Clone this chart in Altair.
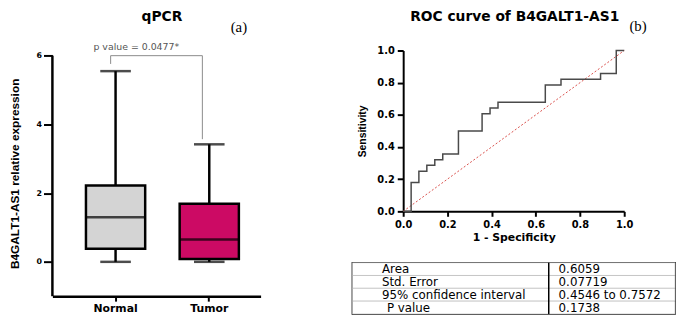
import altair as alt
import pandas as pd

# ---------------- data ----------------
categories = ["Normal", "Tumor"]
whisker_low = [0.0, 0.0]
quartile1 = [0.38, 0.08]
medians = [1.30, 0.65]
quartile3 = [2.22, 1.69]
whisker_high = [5.55, 3.42]
box_colors = ["#d4d4d4", "#cc0a64"]
qpcr_ticks = [0, 2, 4, 6]

p_label = "p value = 0.0477*"
bracket_top = 6.0
bracket_left_end = 5.76
bracket_right_end = 3.57

roc_fpr = [0.0, 0.036, 0.071, 0.107, 0.143, 0.179, 0.250, 0.357, 0.393, 0.429,
           0.643, 0.714, 0.893, 0.964, 1.0]
roc_tpr = [0.0, 0.179, 0.250, 0.286, 0.321, 0.357, 0.500, 0.607, 0.643, 0.679,
           0.786, 0.821, 0.857, 1.0, 1.0]
diag_x = [0.0, 1.0]
diag_y = [0.0, 1.0]
roc_ticks = [0.0, 0.2, 0.4, 0.6, 0.8, 1.0]

table_labels = ["Area", "Std. Error", "95% confidence interval", "P value"]
table_values = ["0.6059", "0.07719", "0.4546 to 0.7572", "0.1738"]
table_indent = [0, 0, 0, 5]

titles = ["qPCR", "ROC curve of B4GALT1-AS1"]
panel_tags = ["(a)", "(b)"]

BOLD = "DejaVu Sans"
ARIAL = "Liberation Sans"


def text_chart(t, **mark):
    return alt.Chart(pd.DataFrame({"t": [t]})).mark_text(**mark)


# ---------------- left panel: qPCR box plot ----------------
box_df = pd.DataFrame({
    "cat": categories, "lo": whisker_low, "q1": quartile1, "med": medians,
    "q3": quartile3, "hi": whisker_high, "color": box_colors,
})

xs = alt.Scale(domain=categories, paddingInner=0.368, paddingOuter=0.295, align=0.607)
ys = alt.Scale(domain=[-1, 6.15], nice=False, zero=False)

x_axis = alt.Axis(labelFont=BOLD, labelFontWeight="bold", labelFontSize=11, labelColor="black",
                  labelAngle=0, tickSize=5, tickWidth=2, tickColor="black",
                  domainWidth=2.5, domainColor="black", labelPadding=2, title=None)
y_axis = alt.Axis(values=qpcr_ticks, labelFont=BOLD, labelFontWeight="bold", labelFontSize=8,
                  labelColor="black", tickSize=9, tickWidth=2, tickColor="black",
                  domain=False, labelPadding=2, grid=False, labelOverlap=False,
                  title="B4GALT1-AS1 relative expression", titleFont=ARIAL,
                  titleFontSize=12, titleFontWeight="bold", titleColor="black",
                  titlePadding=15)

X = alt.X("cat:N", scale=xs, axis=x_axis, title=None)
base = alt.Chart(box_df)

whiskers = base.mark_rule(color="black", strokeWidth=2.5).encode(
    x=X, y=alt.Y("lo:Q", scale=ys, axis=y_axis), y2="hi:Q")
boxes = base.mark_bar(stroke="black", strokeWidth=2.5).encode(
    x=X, y="q1:Q", y2="q3:Q", fill=alt.Fill("color:N", scale=None))
cap_lo = base.mark_tick(color="black", thickness=2.5, size=31).encode(x=X, y="lo:Q")
cap_hi = base.mark_tick(color="black", thickness=2.5, size=31).encode(x=X, y="hi:Q")
med = base.mark_tick(color="black", thickness=2.5, size=60).encode(x=X, y="med:Q")

yaxis_line = alt.Chart(pd.DataFrame({"a": [-1], "b": [6]})).mark_rule(
    color="black", strokeWidth=2.5).encode(x=alt.value(0), y="a:Q", y2="b:Q")

br_df = pd.DataFrame({"a": [categories[0]], "b": [categories[1]], "top": [bracket_top],
                      "lend": [bracket_left_end], "rend": [bracket_right_end], "t": [p_label]})
brb = alt.Chart(br_df)
leg_l = brb.mark_rule(color="#8a8a8a", strokeWidth=1, xOffset=-5).encode(
    x=alt.X("a:N", scale=xs), y="lend:Q", y2="top:Q")
leg_r = brb.mark_rule(color="#8a8a8a", strokeWidth=1, xOffset=-7).encode(
    x=alt.X("b:N", scale=xs), y="rend:Q", y2="top:Q")
bar_h = brb.mark_rule(color="#8a8a8a", strokeWidth=1, xOffset=-5, x2Offset=-7).encode(
    x=alt.X("a:N", scale=xs), x2="b:N", y="top:Q")
p_text = brb.mark_text(color="#555555", font=BOLD, fontSize=9.5, xOffset=21).encode(
    x=alt.X("a:N", scale=xs), y=alt.value(-4), text="t:N")
a_text = text_chart(panel_tags[0], font="Liberation Serif", fontSize=15, color="black").encode(
    x=alt.value(189), y=alt.value(-24), text="t:N")
a_title = text_chart(titles[0], font=BOLD, fontSize=14, fontWeight="bold", color="black").encode(
    x=alt.value(111), y=alt.value(-34), text="t:N")

left = alt.layer(whiskers, boxes, cap_lo, cap_hi, med, yaxis_line, leg_l, leg_r, bar_h,
                 p_text, a_text, a_title).properties(width=211, height=249)

# ---------------- right panel: ROC ----------------
roc_df = pd.DataFrame({"fpr": roc_fpr, "tpr": roc_tpr})
diag_df = pd.DataFrame({"fpr": diag_x, "tpr": diag_y})
rx = alt.Scale(domain=[0, 1], nice=False)
ry = alt.Scale(domain=[0, 1], nice=False)
rx_axis = alt.Axis(values=roc_ticks, format=".1f", labelFont=BOLD, labelFontWeight="bold",
                   labelFontSize=10, labelColor="black", tickSize=5, tickWidth=2,
                   tickColor="black", domainWidth=2, domainColor="black", labelPadding=3,
                   grid=False, title="1 - Specificity", titleFont=BOLD, titleFontSize=11,
                   titleFontWeight="bold", titleColor="black", titlePadding=3,
                   labelFlush=False, labelOverlap=False)
ry_axis = alt.Axis(values=roc_ticks, format=".1f", labelFont=BOLD, labelFontWeight="bold",
                   labelFontSize=10, labelColor="black", tickSize=6, tickWidth=2,
                   tickColor="black", domainWidth=2, domainColor="black", labelPadding=3,
                   grid=False, title="Sensitivity", titleFont=ARIAL, titleFontSize=10.5,
                   titleFontWeight="bold", titleColor="black", titlePadding=9,
                   labelFlush=False, labelOverlap=False, labelBound=False)

RX = alt.X("fpr:Q", scale=rx, axis=rx_axis)
RY = alt.Y("tpr:Q", scale=ry, axis=ry_axis)
diag = alt.Chart(diag_df).mark_line(color="#d9504c", strokeWidth=1, strokeDash=[2, 2]).encode(
    x=RX, y=RY)
roc_line = alt.Chart(roc_df).mark_line(color="#4a4a4a", strokeWidth=1.5,
                                       interpolate="step-after").encode(
    x=RX, y=RY, order="fpr:Q")
b_text = text_chart(panel_tags[1], font="Liberation Serif", fontSize=15, color="black").encode(
    x=alt.value(238), y=alt.value(-25), text="t:N")
b_title = text_chart(titles[1], font=BOLD, fontSize=14, fontWeight="bold", color="black").encode(
    x=alt.value(113), y=alt.value(-34), text="t:N")

roc = alt.layer(diag, roc_line, b_text, b_title).properties(width=224, height=163)

# ---------------- table ----------------
split = 199 / 327
cells = []
for lab in table_labels:
    cells.append({"label": lab, "x0": 0.0, "x1": split})
    cells.append({"label": lab, "x0": split, "x1": 1.0})
cell_df = pd.DataFrame(cells)
tab_df = pd.DataFrame({"label": table_labels, "value": table_values, "ind": table_indent})
tx = alt.Scale(domain=[0, 1], nice=False)
ty = alt.Scale(domain=table_labels, paddingInner=0, paddingOuter=0)
TY = alt.Y("label:N", scale=ty, axis=None, sort=table_labels)

cell_rects = alt.Chart(cell_df).mark_rect(fill="white", stroke="#b0b0b0", strokeWidth=0.6).encode(
    x=alt.X("x0:Q", scale=tx, axis=None), x2="x1:Q", y=TY)
divider = alt.Chart(pd.DataFrame({"s": [split]})).mark_rule(color="black", strokeWidth=1.5).encode(
    x=alt.X("s:Q", scale=tx))
lab_text = alt.Chart(tab_df).transform_calculate(px="30 + datum.ind").mark_text(
    align="left", font=BOLD, fontSize=12, color="black").encode(
    x=alt.X("px:Q", scale=None), y=TY, text="label:N")
val_text = alt.Chart(tab_df).mark_text(align="left", font=BOLD, fontSize=12, color="black", dx=10).encode(
    x=alt.X("s:Q", scale=tx), y=TY, text="value:N").transform_calculate(s=str(split))

table = alt.layer(cell_rects, divider, lab_text, val_text).properties(
    width=327, height=52, view=alt.ViewBackground(stroke="black", strokeWidth=1.5))

right = alt.vconcat(roc, table, spacing=52, center=True, bounds="flush")

chart = alt.hconcat(left, right, spacing=93, bounds="flush", padding=0,
                    background="white").configure_view(stroke="transparent", strokeWidth=0)

chart.save("out.html", embed_options={"renderer": "svg", "actions": False})
